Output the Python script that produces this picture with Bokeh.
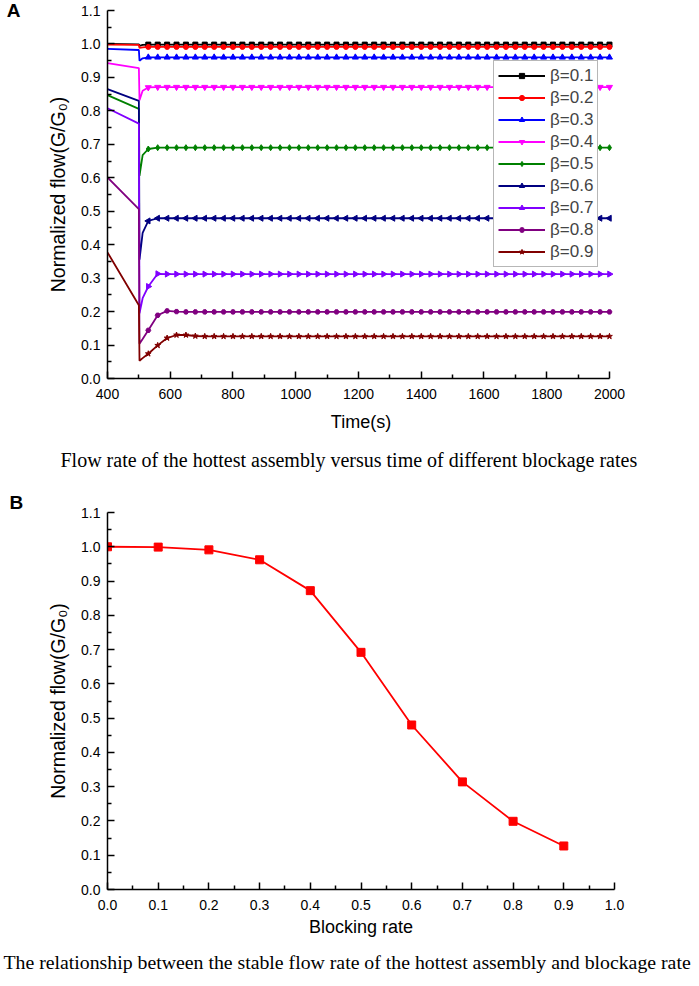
import math
from bokeh.plotting import figure
from bokeh.models import (Range1d, FixedTicker, Legend, LegendItem, Title, LinearAxis,
                          NumeralTickFormatter)
from bokeh.layouts import column
from bokeh.embed import file_html
from bokeh.resources import INLINE

# ---------------- Panel A data ----------------
series_labels = ["β=0.1", "β=0.2", "β=0.3", "β=0.4", "β=0.5", "β=0.6", "β=0.7", "β=0.8", "β=0.9"]
pre_t = [400, 500]
pre_y = [
    [1.000, 0.999],
    [0.998, 0.997],
    [0.985, 0.982],
    [0.943, 0.928],
    [0.847, 0.806],
    [0.865, 0.830],
    [0.808, 0.762],
    [0.601, 0.506],
    [0.377, 0.219],
]
drop_t = [502, 512]
drop_y = [
    [0.994, 0.997],
    [0.988, 0.990],
    [0.950, 0.957],
    [0.832, 0.860],
    [0.606, 0.668],
    [0.355, 0.435],
    [0.195, 0.240],
    [0.104, 0.118],
    [0.053, 0.061],
]
rise_t = [530, 560, 590, 620, 650, 680, 710]
rise_y = [
    [0.998],
    [0.991],
    [0.960],
    [0.870],
    [0.686, 0.690],
    [0.471, 0.479],
    [0.275, 0.313, 0.312],
    [0.144, 0.189, 0.202, 0.200, 0.199],
    [0.074, 0.099, 0.121, 0.130, 0.130, 0.127, 0.126],
]
steady_y = [0.998, 0.991, 0.960, 0.871, 0.690, 0.479, 0.312, 0.199, 0.126]
sample_t = list(range(530, 2001, 30))

x_ticks_a = [400, 600, 800, 1000, 1200, 1400, 1600, 1800, 2000]
x_minor_a = [500, 700, 900, 1100, 1300, 1500, 1700, 1900]

# ---------------- Panel B data ----------------
blocking_rate = [0.0, 0.1, 0.2, 0.3, 0.4, 0.5, 0.6, 0.7, 0.8, 0.9]
stable_flow = [1.000, 0.999, 0.991, 0.962, 0.872, 0.692, 0.480, 0.314, 0.199, 0.127]
x_ticks_b = [0.0, 0.1, 0.2, 0.3, 0.4, 0.5, 0.6, 0.7, 0.8, 0.9, 1.0]
x_minor_b = [0.05, 0.15, 0.25, 0.35, 0.45, 0.55, 0.65, 0.75, 0.85, 0.95]
y_ticks = [0.0, 0.1, 0.2, 0.3, 0.4, 0.5, 0.6, 0.7, 0.8, 0.9, 1.0, 1.1]
y_minor = [0.05, 0.15, 0.25, 0.35, 0.45, 0.55, 0.65, 0.75, 0.85, 0.95, 1.05]

caption_a = "Flow rate of the hottest assembly versus time of different blockage rates"
caption_b = "The relationship between the stable flow rate of the hottest assembly and blockage rate"
ylabel = "Normalized flow(G/G₀)"
panel_a = "A"
panel_b = "B"

# ---------------- styles ----------------
colors = ["#000000", "#FF0000", "#0000FF", "#FF00FF", "#008000", "#000080", "#8000FF", "#800080", "#800000"]
markers = ["square", "circle", "triangle", "inverted_triangle", "diamond", "triangle", "triangle", "hex", "star"]
angles = [0, 0, 0, 0, 0, math.pi / 2, -math.pi / 2, 0, 0]
msizes = [5, 5, 6, 6, 6, 6, 6, 5, 6]

SANS = "Liberation Sans"
SERIF = "Liberation Serif"


def style_axes(p, xfmt, xticks, xminor, lstand_x):
    for ax in (p.xaxis[0], p.yaxis[0]):
        ax.axis_line_width = 1.5
        ax.major_tick_line_width = 1.5
        ax.minor_tick_line_width = 1.5
        ax.major_tick_in = 7
        ax.major_tick_out = 0
        ax.minor_tick_in = 4
        ax.minor_tick_out = 0
        ax.major_label_text_font = SANS
        ax.major_label_text_font_size = "14px"
        ax.major_label_text_color = "black"
        ax.axis_label_text_font = SANS
        ax.axis_label_text_font_style = "normal"
        ax.axis_label_text_color = "black"
    p.xaxis[0].axis_label_text_font_size = "18px"
    p.yaxis[0].axis_label_text_font_size = "19.5px"
    p.yaxis[0].major_label_standoff = 7
    p.xaxis[0].major_label_standoff = 10
    p.xaxis[0].ticker = FixedTicker(ticks=xticks, minor_ticks=xminor)
    p.yaxis[0].ticker = FixedTicker(ticks=y_ticks, minor_ticks=y_minor)
    p.yaxis[0].formatter = NumeralTickFormatter(format="0.0")
    if xfmt:
        p.xaxis[0].formatter = NumeralTickFormatter(format=xfmt)
    p.yaxis[0].axis_label_standoff = 9
    p.xaxis[0].axis_label_standoff = lstand_x
    p.xgrid.visible = False
    p.ygrid.visible = False
    p.outline_line_color = None


def spacer_axis(gap):
    # empty axis (no line, ticks or labels) that only keeps a gap above the caption
    return LinearAxis(ticker=FixedTicker(ticks=[]), axis_line_color=None,
                      major_tick_line_color=None, minor_tick_line_color=None,
                      major_tick_in=0, major_tick_out=gap, minor_tick_in=0, minor_tick_out=0,
                      major_label_text_font_size="0px")


HA = 489
HB = 496

# ---------------- Figure A ----------------
topA = 10
pA = figure(width=699, height=HA, output_backend="svg", toolbar_location=None,
            x_range=Range1d(400, 2016), y_range=Range1d(0, 1.1),
            min_border_left=107, min_border_right=85, min_border_top=topA,
            min_border_bottom=HA - topA - 368,
            background_fill_color="white", border_fill_color="white")
style_axes(pA, None, x_ticks_a, x_minor_a, 10)
pA.xaxis[0].bounds = (400, 2000)
pA.xaxis[0].axis_label = "Time(s)"
pA.yaxis[0].axis_label = ylabel

items = []
for i in range(len(series_labels)):
    n = len(rise_y[i])
    tr_t = rise_t[:n]
    line_t = pre_t + drop_t + tr_t + [t for t in sample_t if t > tr_t[-1]]
    line_y = pre_y[i] + drop_y[i] + rise_y[i] + [steady_y[i] for t in sample_t if t > tr_t[-1]]
    mk_y = [rise_y[i][tr_t.index(t)] if t in tr_t else steady_y[i] for t in sample_t]
    r_line = pA.line(line_t, line_y, line_color=colors[i], line_width=1.8)
    r_mk = pA.scatter(sample_t, mk_y, marker=markers[i], size=msizes[i], angle=angles[i],
                      fill_color=colors[i], line_color=colors[i])
    items.append(LegendItem(label=series_labels[i], renderers=[r_line, r_mk]))

legend = Legend(items=items, location=(386, 111), orientation="vertical",
                glyph_width=47, glyph_height=13, label_height=21, spacing=1, padding=4,
                label_standoff=5, margin=0,
                label_text_font=SANS, label_text_font_size="17px",
                border_line_color="#707070", border_line_width=1,
                background_fill_color="white", background_fill_alpha=1.0)
pA.add_layout(legend, "center")
pA.add_layout(spacer_axis(7), "below")
pA.add_layout(Title(text=caption_a, align="left", offset=-47, standoff=25,
                    text_font=SERIF, text_font_size="20px", text_font_style="normal",
                    text_color="black"), "below")

# panel letter "A" as the label of an extra, otherwise empty left axis
letter_axis = LinearAxis(axis_label=panel_a, ticker=FixedTicker(ticks=[]),
                         axis_line_color=None, major_tick_line_color=None,
                         minor_tick_line_color=None, major_label_text_font_size="0px",
                         axis_label_standoff=24, axis_label_text_font=SANS,
                         axis_label_text_font_size="19px", axis_label_text_font_style="bold",
                         axis_label_text_color="black", axis_label_orientation="horizontal")
if "axis_label_align" in letter_axis.properties():
    letter_axis.axis_label_align = "end"
pA.add_layout(letter_axis, "left")

# ---------------- Figure B ----------------
topB = 23
pB = figure(width=699, height=HB, output_backend="svg", toolbar_location=None,
            x_range=Range1d(0, 1.0), y_range=Range1d(0, 1.1),
            min_border_left=107, min_border_right=83, min_border_top=topB,
            min_border_bottom=HB - 24 - 376,
            background_fill_color="white", border_fill_color="white")
style_axes(pB, "0.0", x_ticks_b, x_minor_b, 4)
pB.xaxis[0].axis_label = "Blocking rate"
pB.yaxis[0].axis_label = ylabel
pB.line(blocking_rate, stable_flow, line_color="#FF0000", line_width=1.8)
pB.scatter(blocking_rate, stable_flow, marker="square", size=8, fill_color="#FF0000", line_color="#FF0000")
pB.add_layout(spacer_axis(3), "below")
pB.add_layout(Title(text=caption_b, align="left", offset=-104, standoff=19,
                    text_font=SERIF, text_font_size="19.8px", text_font_style="normal",
                    text_color="black"), "below")
pB.add_layout(Title(text=panel_b, align="left", offset=-98, standoff=0,
                    text_font=SANS, text_font_size="19px", text_font_style="bold",
                    text_color="black"), "above")

layout = column(pA, pB)
open("out.html", "w").write(file_html(layout, INLINE))
